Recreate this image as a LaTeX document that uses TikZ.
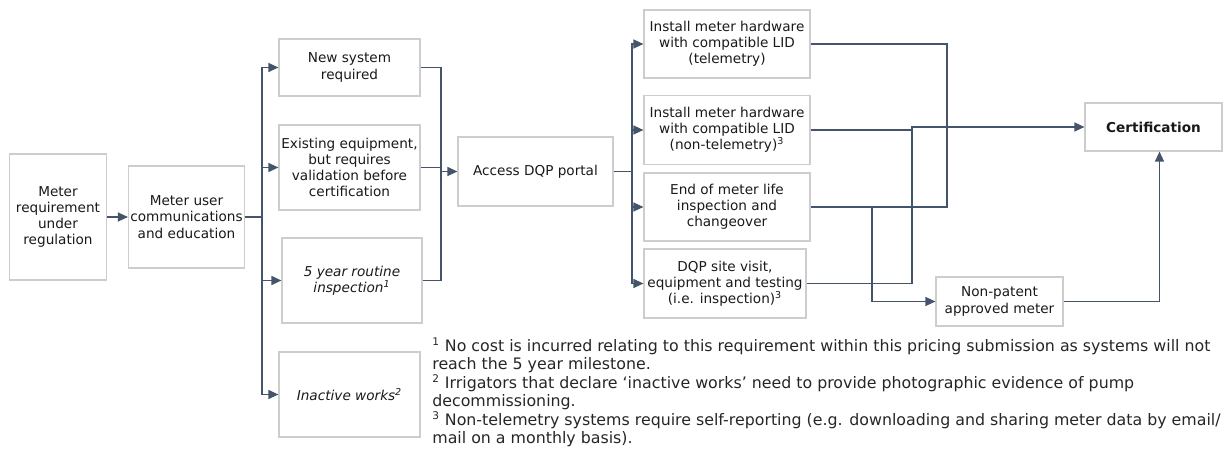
\documentclass[tikz,border=0pt]{standalone}
\usepackage{fontspec}
\setmainfont{DejaVu Sans}
\usepackage{tikz}
\usetikzlibrary{arrows.meta,positioning}
\definecolor{linkblue}{HTML}{44546A}
\definecolor{boxgray}{HTML}{CDCDCD}

\begin{document}
\begin{tikzpicture}[x=0.02cm,y=-0.02cm,>={Triangle[length=2mm,width=1.8mm]},
  box/.style={draw=boxgray,line width=0.7pt,align=center,inner sep=1pt,text=black!90,font=\fontsize{7.75}{9.2}\selectfont},
  link/.style={draw=linkblue,line width=0.75pt},
  note/.style={anchor=north west,align=left,inner sep=0pt,text=black!85,font=\fontsize{9}{10.24}\selectfont}]

    \useasboundingbox (0,0) rectangle (1226,469);

    % The boxes
	\node [box,minimum width=1.94cm,minimum height=2.52cm] at (58,217) (req) {Meter\\requirement\\under\\regulation};
	\node [box,minimum width=2.30cm,minimum height=2.04cm] at (186.5,217) (comm) {Meter user\\communications\\and education};
	\node [box,minimum width=2.82cm,minimum height=1.14cm] at (349.5,67.5) (newsys) {New system\\required};
	\node [box,minimum width=2.82cm,minimum height=1.70cm] at (349.5,167.5) (exist) {Existing equipment,\\but requires\\validation before\\certification};
	\node [box,minimum width=2.80cm,minimum height=1.70cm] at (352,280.5) (routine) {\itshape 5 year routine\\\itshape inspection\textsuperscript{1}};
	\node [box,minimum width=2.82cm,minimum height=1.70cm] at (349.5,394.5) (inactive) {\itshape Inactive works\textsuperscript{2}};
	\node [box,minimum width=3.10cm,minimum height=1.38cm] at (535.5,171.5) (portal) {Access DQP portal};
	\node [box,minimum width=3.32cm,minimum height=1.36cm] at (727,44) (tele) {Install meter hardware\\with compatible LID\\(telemetry)};
	\node [box,minimum width=3.32cm,minimum height=1.38cm] at (727,130) (nontele) {Install meter hardware\\with compatible LID\\(non-telemetry)\textsuperscript{3}};
	\node [box,minimum width=3.32cm,minimum height=1.36cm] at (727,207) (eol) {End of meter life\\inspection and\\changeover};
	\node [box,minimum width=3.24cm,minimum height=1.38cm] at (725,283.5) (site) {DQP site visit,\\equipment and testing\\(i.e. inspection)\textsuperscript{3}};
	\node [box,minimum width=2.74cm,minimum height=0.96cm] at (1153.5,127) (cert) {\bfseries Certification};
	\node [box,minimum width=2.54cm,minimum height=0.98cm] at (999.5,301.5) (nonpat) {Non-patent\\approved meter};

	% Junctions
	\coordinate (split1) at (262,217);
	\coordinate (merge1) at (441,171.5);
	\coordinate (split2) at (632,171.5);
	\coordinate (turn1) at (947,207);
	\coordinate (drop) at (872,207);
	\coordinate (rise) at (912,127);

	% Edges
	\draw [link,->] (req) -- (comm);
	\draw [link] (comm) -- (split1);
	\draw [link,->] (split1) |- (newsys);
	\draw [link,->] (split1) |- (exist);
	\draw [link,->] (split1) |- (routine);
	\draw [link,->] (split1) |- (inactive);
	\draw [link] (newsys) -| (merge1);
	\draw [link] (exist) -| (merge1);
	\draw [link] (routine) -| (merge1);
	\draw [link,->] (merge1) -- (portal);
	\draw [link] (portal) -- (split2);
	\draw [link,->] (split2) |- (tele);
	\draw [link,->] (split2) |- (nontele);
	\draw [link,->] (split2) |- (eol);
	\draw [link,->] (split2) |- (site);
	\draw [link] (tele) -| (turn1) -- (drop);
	\draw [link,->] (eol) -- (drop) |- (nonpat);
	\draw [link,->] (nontele) -| (rise) -- (cert);
	\draw [link] (site) -| (rise);
	\draw [link,->] (nonpat) -| ([xshift=1.2mm]cert.south);

	% Footnotes
	\node [note] at (432,337) (note1) {\textsuperscript{1} No cost is incurred relating to this requirement within this pricing submission as systems will not\\reach the 5 year milestone.};
	\node [note] at (432,374) (note2) {\textsuperscript{2} Irrigators that declare ‘inactive works’ need to provide photographic evidence of pump\\decommissioning.};
	\node [note] at (432,411) (note3) {\textsuperscript{3} Non-telemetry systems require self-reporting (e.g. downloading and sharing meter data by email/\\mail on a monthly basis).};

\end{tikzpicture}
\end{document}
